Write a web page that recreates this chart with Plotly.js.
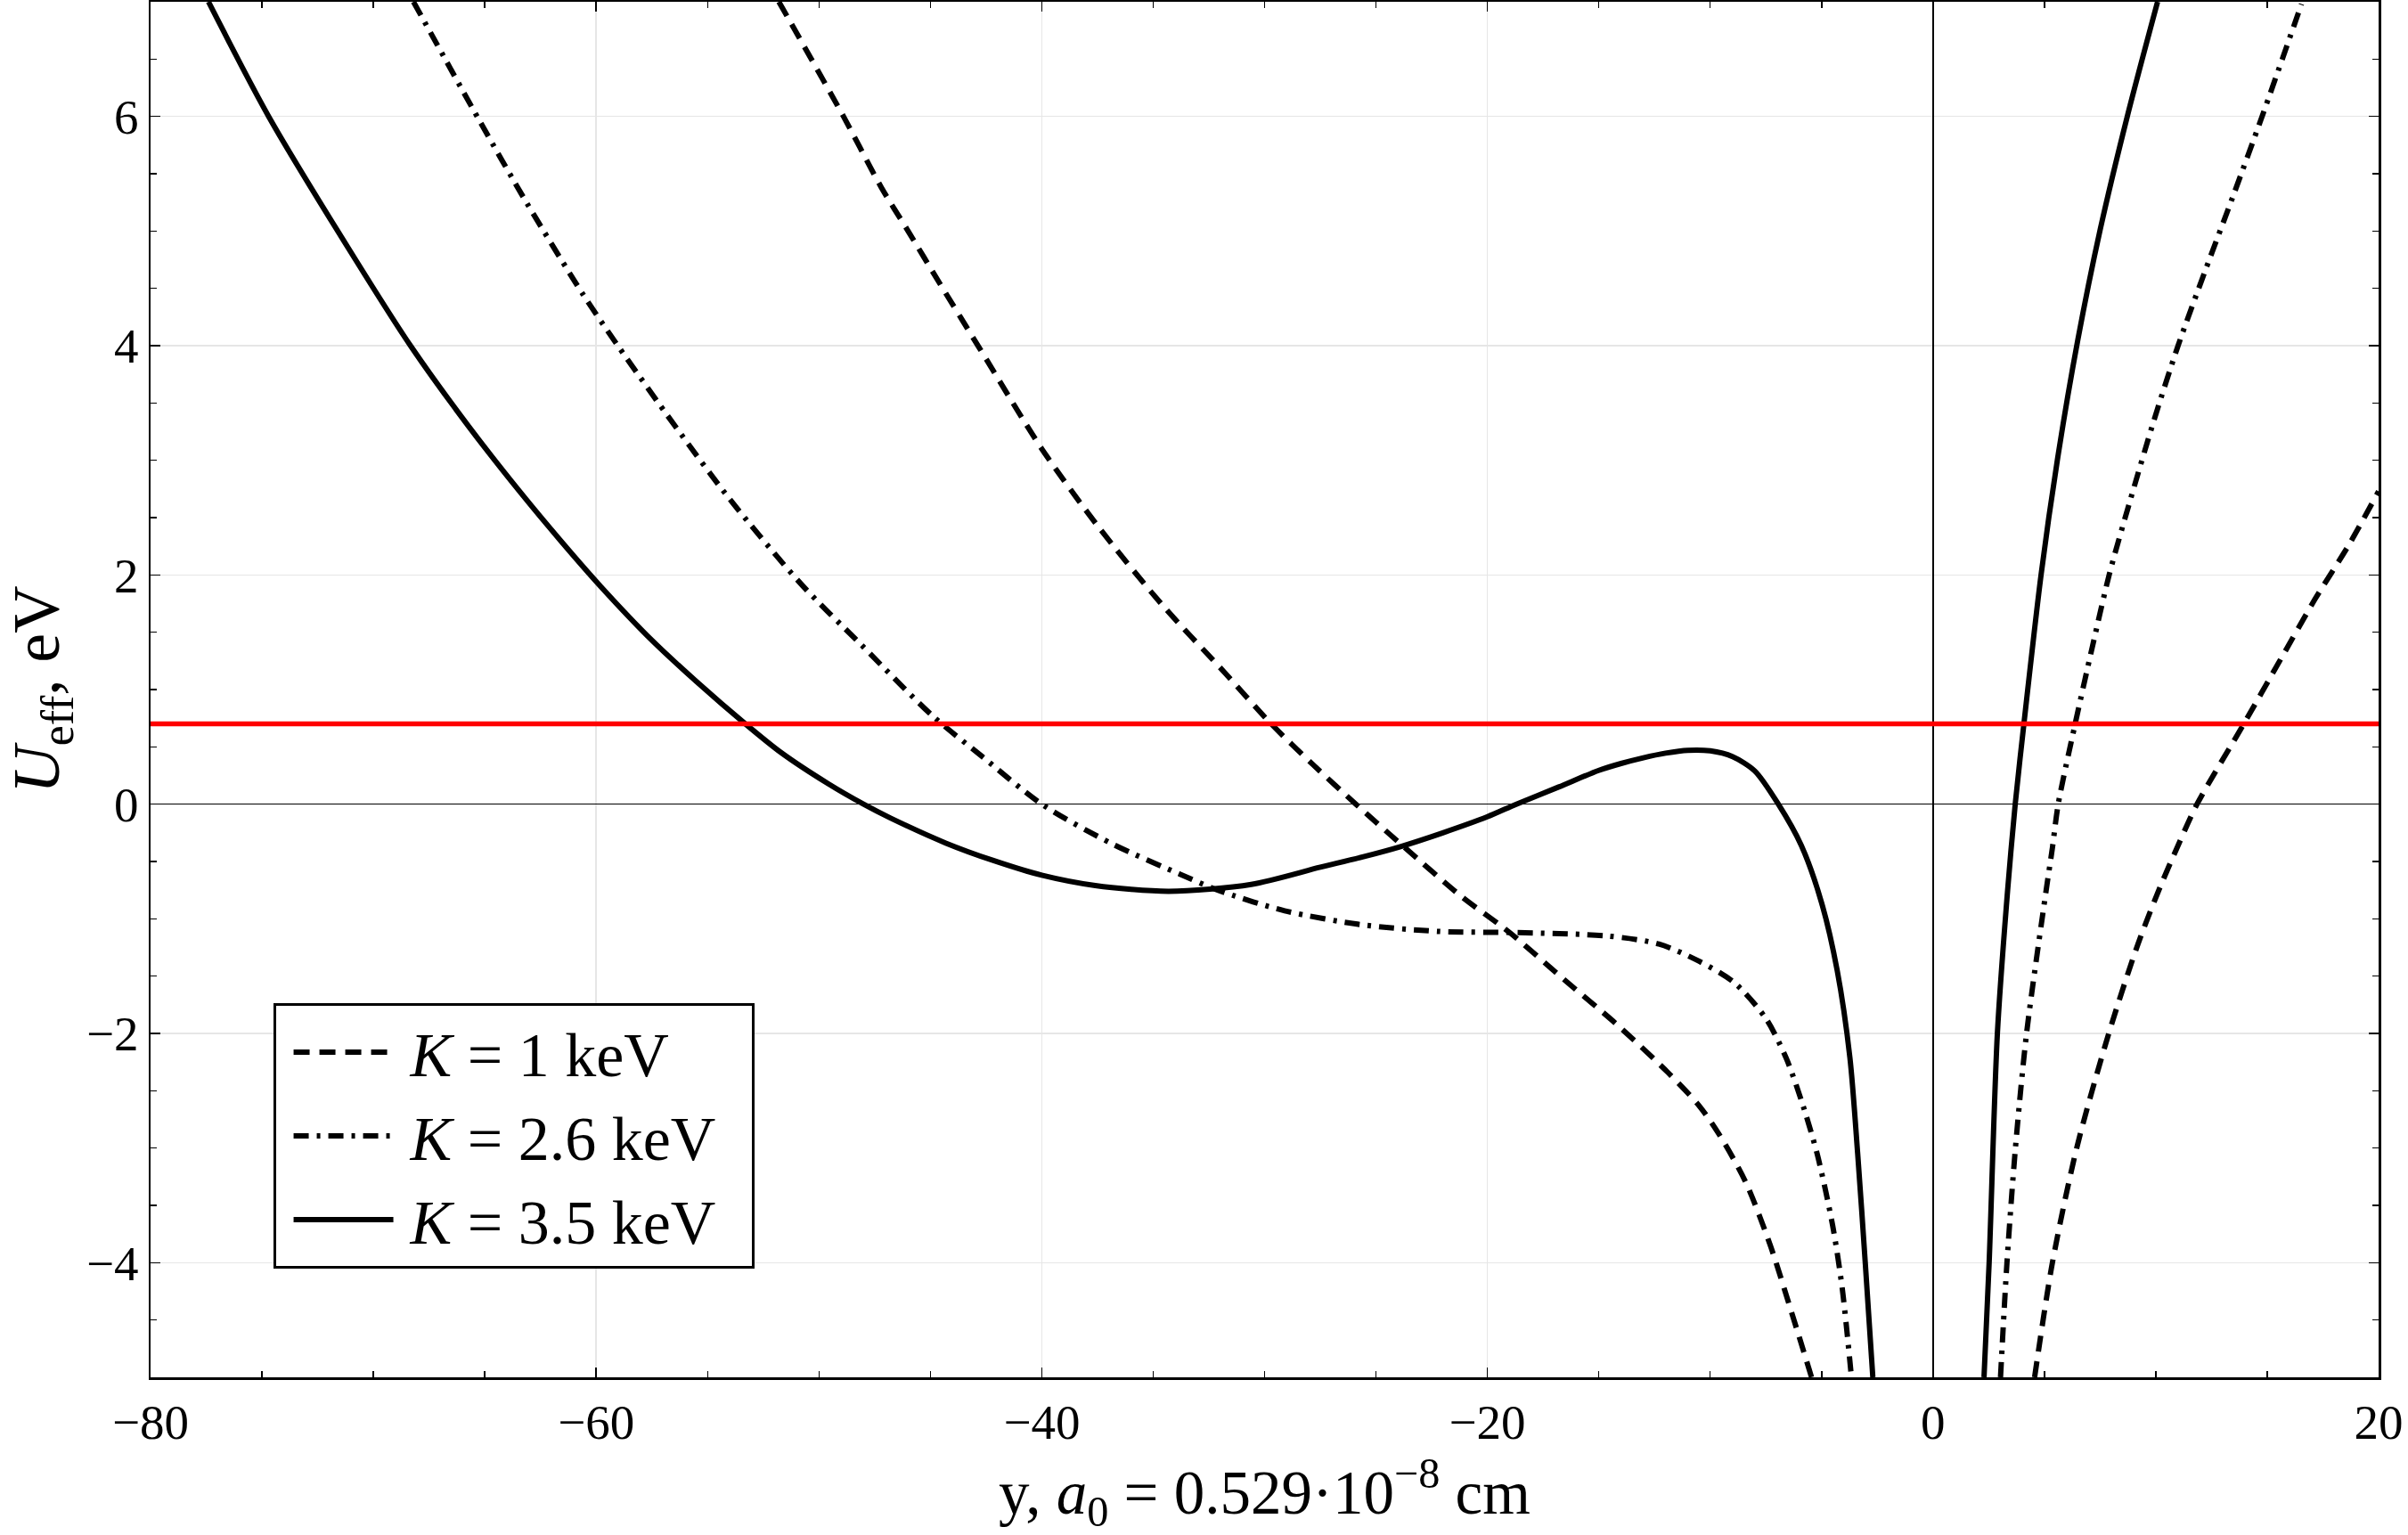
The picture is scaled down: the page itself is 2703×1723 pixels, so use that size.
<!DOCTYPE html>
<html>
<head>
<meta charset="utf-8">
<script src="https://cdn.plot.ly/plotly-3.0.1.min.js"></script>
<style>body{margin:0;background:#fff}</style>
</head>
<body>
<div id="chart" style="width:2703px;height:1723px"></div>
<script>
// K = 1 keV (dashed), two branches either side of y = 0
var k1LeftX = [-51.8, -48.9, -47.2, -46.0, -44.6, -42.8, -40.0, -37.5, -34.6, -31.8, -29.7, -27.8, -25.9, -23.7, -21.2, -19.0, -16.5, -14.2, -11.9, -10.5, -9.6, -8.4, -7.3, -6.4, -5.45];
var k1LeftY = [7.0, 6.0, 5.38, 5.0, 4.55, 3.98, 3.1, 2.43, 1.74, 1.15, 0.7, 0.34, 0.0, -0.38, -0.8, -1.12, -1.54, -1.92, -2.34, -2.63, -2.88, -3.3, -3.85, -4.4, -5.0];
var k1RightX = [4.56, 5.36, 6.45, 7.89, 9.2, 10.2, 11.0, 11.85, 13.95, 15.62, 17.15, 18.69, 20.0];
var k1RightY = [-5.0, -4.0, -3.0, -2.0, -1.22, -0.72, -0.36, 0.0, 0.7, 1.27, 1.79, 2.27, 2.73];

// K = 2.6 keV (dash-dot)
var k26LeftX = [-68.2, -65.2, -63.1, -60.6, -59.1, -56.5, -54.0, -50.8, -48.1, -44.9, -42.7, -40.0, -36.8, -33.8, -32.1, -29.1, -25.7, -22.2, -18.8, -14.6, -12.3, -10.5, -8.9, -7.5, -6.6, -5.9, -5.2, -4.5, -4.07, -3.66];
var k26LeftY = [7.0, 5.95, 5.24, 4.45, 4.02, 3.31, 2.66, 1.92, 1.39, 0.77, 0.42, 0.0, -0.35, -0.61, -0.75, -0.93, -1.05, -1.11, -1.12, -1.15, -1.22, -1.37, -1.56, -1.87, -2.21, -2.59, -3.05, -3.68, -4.23, -5.0];
var k26RightX = [3.03, 3.32, 3.7, 4.2, 5.08, 5.36, 5.62, 6.38, 7.15, 7.92, 8.85, 9.92, 11.0, 12.23, 13.46, 14.77, 16.54];
var k26RightY = [-5.0, -4.0, -3.0, -2.0, -0.75, -0.38, 0.0, 0.7, 1.37, 2.01, 2.65, 3.35, 4.0, 4.66, 5.3, 6.0, 6.98];

// K = 3.5 keV (solid)
var k35LeftX = [-77.4, -74.7, -70.8, -68.3, -65.7, -63.4, -61.6, -59.8, -57.5, -55.5, -53.3, -51.7, -49.6, -48.0, -46.8, -44.3, -42.2, -40.0, -37.6, -34.3, -30.6, -27.5, -25.6, -23.9, -22.0, -20.0, -18.7, -16.8, -15.0, -14.0, -13.0, -12.0, -11.0, -10.0, -9.0, -8.0, -6.94, -5.91, -5.0, -4.3, -3.73, -3.38, -3.04, -2.7];
var k35LeftY = [7.0, 6.0, 4.75, 3.99, 3.29, 2.72, 2.3, 1.9, 1.43, 1.07, 0.7, 0.45, 0.18, 0.0, -0.12, -0.34, -0.49, -0.62, -0.71, -0.76, -0.7, -0.55, -0.46, -0.37, -0.25, -0.11, 0.0, 0.15, 0.295, 0.355, 0.405, 0.445, 0.47, 0.465, 0.415, 0.29, 0.0, -0.36, -0.86, -1.45, -2.21, -3.05, -4.0, -5.0];
var k35RightX = [2.29, 2.52, 2.89, 3.35, 3.69, 4.08, 4.85, 5.58, 6.5, 7.49, 8.72, 10.08];
var k35RightY = [-5.0, -4.0, -2.0, -0.75, 0.0, 0.7, 2.0, 3.0, 4.05, 5.0, 6.0, 7.0];

// red energy level
var levelX = [-80, 20];
var levelY = [0.7, 0.7];

var names = ['\u2009<i>K</i> = 1 keV\u2002', '\u2009<i>K</i> = 2.6 keV\u2002', '\u2009<i>K</i> = 3.5 keV\u2002'];

var serif = 'Liberation Serif, Times New Roman, serif';

function branches(lx, ly, rx, ry) {
    return {x: lx.concat([null], rx), y: ly.concat([null], ry)};
}

var b1 = branches(k1LeftX, k1LeftY, k1RightX, k1RightY);
var b26 = branches(k26LeftX, k26LeftY, k26RightX, k26RightY);
var b35 = branches(k35LeftX, k35LeftY, k35RightX, k35RightY);

var data = [
    {
        type: 'scatter', mode: 'lines', name: names[0],
        x: b1.x, y: b1.y, connectgaps: false,
        line: {color: '#000', width: 6, dash: '18px,11px', shape: 'spline', smoothing: 0.8}
    },
    {
        type: 'scatter', mode: 'lines', name: names[1],
        x: b26.x, y: b26.y, connectgaps: false,
        line: {color: '#000', width: 6, dash: '17px,9px,4px,9px', shape: 'spline', smoothing: 0.8}
    },
    {
        type: 'scatter', mode: 'lines', name: names[2],
        x: b35.x, y: b35.y, connectgaps: false,
        line: {color: '#000', width: 6, shape: 'spline', smoothing: 0.8}
    },
    {
        type: 'scatter', mode: 'lines', showlegend: false,
        x: levelX, y: levelY,
        line: {color: '#ff0000', width: 5.5}
    }
];

var layout = {
    width: 2703,
    height: 1723,
    paper_bgcolor: '#fff',
    plot_bgcolor: '#fff',
    font: {family: serif, size: 55, color: '#000'},
    margin: {l: 169, r: 33, t: 2, b: 177, pad: 0},
    showlegend: true,
    legend: {
        x: 0.055, y: 0.272, xanchor: 'left', yanchor: 'top',
        bgcolor: '#fff', bordercolor: '#000', borderwidth: 3,
        font: {family: serif, size: 70, color: '#000'},
        itemwidth: 112,
        indentation: 15,
        tracegroupgap: 0
    },
    xaxis: {
        range: [-80, 20],
        dtick: 20, tick0: 0,
        ticks: 'inside', ticklen: 11, tickwidth: 1.5, tickcolor: '#000',
        minor: {dtick: 5, ticks: 'inside', ticklen: 7, tickwidth: 1.5, tickcolor: '#000', showgrid: false},
        showline: true, linecolor: '#000', linewidth: 2.5, mirror: 'allticks',
        showgrid: true, gridcolor: '#e6e6e6', gridwidth: 1.5,
        zeroline: true, zerolinecolor: '#000', zerolinewidth: 1.5,
        tickfont: {family: serif, size: 55},
        title: {text: 'y, <i>a</i><sub>0</sub> = 0.529·10<sup>−8</sup> cm', font: {family: serif, size: 69}, standoff: 30}
    },
    yaxis: {
        range: [-5, 7],
        dtick: 2, tick0: 0,
        ticks: 'inside', ticklen: 11, tickwidth: 1.5, tickcolor: '#000',
        minor: {dtick: 0.5, ticks: 'inside', ticklen: 7, tickwidth: 1.5, tickcolor: '#000', showgrid: false},
        showline: true, linecolor: '#000', linewidth: 2.5, mirror: 'allticks',
        showgrid: true, gridcolor: '#e6e6e6', gridwidth: 1.5,
        zeroline: true, zerolinecolor: '#000', zerolinewidth: 1.5,
        tickfont: {family: serif, size: 55},
        title: {text: '<i>U</i><sub>eff</sub>, eV', font: {family: serif, size: 74}, standoff: 20}
    }
};

Plotly.newPlot('chart', data, layout, {displayModeBar: false, staticPlot: true});
</script>
</body>
</html>
